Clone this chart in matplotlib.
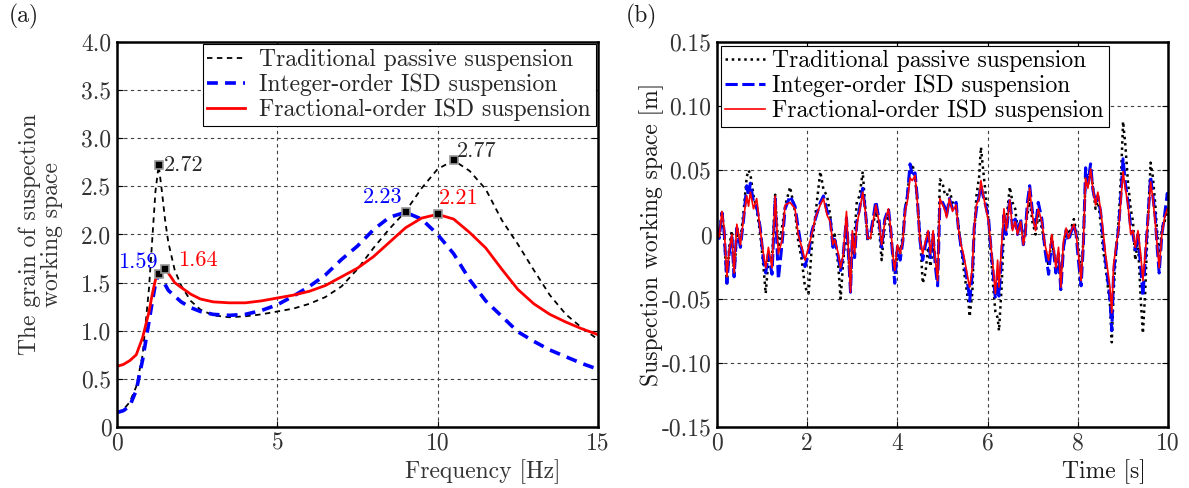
import matplotlib
matplotlib.use('Agg')
import matplotlib.pyplot as plt

plt.rcParams['font.family'] = ['cmr10', 'DejaVu Serif']
plt.rcParams['mathtext.fontset'] = 'cm'
plt.rcParams['axes.unicode_minus'] = False

# (a) frequency response
freq = [0, 0.2, 0.4, 0.6, 0.8, 1.0, 1.1, 1.2, 1.3, 1.4, 1.5, 1.6, 1.8, 2.0, 2.3, 2.6,
        3.0, 3.5, 4.0, 4.5, 5.0, 5.5, 6.0, 6.5, 7.0, 7.5, 8.0, 8.5, 9.0, 9.5, 10.0,
        10.5, 11.0, 11.5, 12.0, 12.5, 13.0, 13.5, 14.0, 14.5, 15.0]
gain_passive = [0.15, 0.18, 0.26, 0.42, 0.75, 1.45, 1.95, 2.45, 2.72, 2.45, 2.15, 1.92,
                1.63, 1.47, 1.31, 1.22, 1.16, 1.14, 1.15, 1.17, 1.20, 1.23, 1.28, 1.35,
                1.46, 1.64, 1.86, 2.06, 2.24, 2.48, 2.68, 2.77, 2.66, 2.47, 2.15, 1.90,
                1.63, 1.37, 1.17, 1.03, 0.91]
gain_integer = [0.15, 0.17, 0.22, 0.38, 0.70, 1.10, 1.30, 1.49, 1.59, 1.55, 1.48, 1.42,
                1.36, 1.30, 1.24, 1.20, 1.17, 1.16, 1.17, 1.21, 1.27, 1.36, 1.46, 1.58,
                1.74, 1.88, 2.05, 2.18, 2.23, 2.16, 2.00, 1.80, 1.53, 1.31, 1.15, 0.99,
                0.89, 0.80, 0.73, 0.66, 0.60]
gain_fractional = [0.63, 0.65, 0.69, 0.75, 0.93, 1.20, 1.38, 1.53, 1.60, 1.63, 1.64, 1.60,
                   1.50, 1.45, 1.38, 1.33, 1.30, 1.29, 1.29, 1.31, 1.34, 1.37, 1.41, 1.47,
                   1.56, 1.65, 1.77, 1.92, 2.07, 2.17, 2.21, 2.16, 2.02, 1.86, 1.64, 1.43,
                   1.28, 1.17, 1.09, 1.02, 0.96]

# peak markers
peak_f = [1.3, 1.3, 1.5, 9.0, 10.0, 10.5]
peak_v = [2.72, 1.59, 1.64, 2.23, 2.21, 2.77]
peak_txt = ['2.72', '1.59', '1.64', '2.23', '2.21', '2.77']

# (b) time response
t = [0.00, 0.05, 0.11, 0.16, 0.22, 0.27, 0.33, 0.38, 0.44, 0.52, 0.59, 0.66, 0.70, 0.74,
     0.81, 0.88, 0.96, 1.03, 1.08, 1.14, 1.22, 1.29, 1.36, 1.44, 1.51, 1.62, 1.73, 1.80,
     1.88, 1.95, 2.03, 2.10, 2.18, 2.29, 2.36, 2.44, 2.51, 2.57, 2.61, 2.69, 2.74, 2.80,
     2.87, 2.91, 2.96, 3.00, 3.05, 3.10, 3.16, 3.23, 3.29, 3.34, 3.40, 3.46, 3.52, 3.59,
     3.65, 3.72, 3.80, 3.85, 3.91, 3.94, 4.00, 4.06, 4.12, 4.17, 4.22, 4.28, 4.33, 4.39,
     4.44, 4.50, 4.56, 4.62, 4.68, 4.73, 4.79, 4.84, 4.89, 4.94, 5.00, 5.04, 5.09, 5.15,
     5.22, 5.30, 5.35, 5.41, 5.46, 5.52, 5.58, 5.60, 5.66, 5.70, 5.75, 5.81, 5.85, 5.90,
     5.96, 6.02, 6.07, 6.12, 6.17, 6.22, 6.25, 6.31, 6.36, 6.41, 6.49, 6.55, 6.61, 6.66,
     6.73, 6.79, 6.83, 6.88, 6.93, 6.99, 7.06, 7.12, 7.20, 7.27, 7.35, 7.42, 7.46, 7.51,
     7.57, 7.62, 7.68, 7.74, 7.79, 7.85, 7.91, 7.96, 8.01, 8.07, 8.12, 8.17, 8.22, 8.28,
     8.33, 8.39, 8.44, 8.50, 8.55, 8.61, 8.66, 8.71, 8.75, 8.79, 8.85, 8.90, 8.96, 9.00,
     9.05, 9.11, 9.17, 9.22, 9.27, 9.33, 9.39, 9.44, 9.49, 9.55, 9.61, 9.66, 9.71, 9.76,
     9.80, 9.86, 9.92, 9.98, 10.00]
sws_fractional = [0.003, -0.002, 0.018, 0.005, -0.033, -0.012, 0.000, -0.030, 0.008, -0.008,
                  0.013, 0.030, 0.022, 0.033, 0.020, 0.028, 0.003, -0.015, -0.026, -0.010,
                  -0.026, 0.030, -0.015, -0.005, 0.023, 0.025, 0.020, 0.000, -0.010, -0.020,
                  -0.010, 0.000, 0.013, 0.023, 0.028, 0.015, 0.010, -0.008, -0.004, -0.015,
                  -0.026, -0.015, 0.018, -0.010, -0.045, 0.003, -0.015, 0.008, 0.018, 0.033,
                  0.018, -0.003, -0.003, 0.010, 0.023, 0.010, -0.008, 0.010, 0.020, 0.005,
                  -0.020, -0.028, -0.008, -0.015, -0.005, 0.018, 0.026, 0.044, 0.042, 0.046,
                  0.026, -0.005, -0.015, -0.005, 0.003, -0.015, 0.003, -0.020, -0.036, 0.028,
                  0.023, 0.020, 0.013, 0.028, 0.018, 0.023, 0.005, -0.008, -0.015, -0.026,
                  -0.038, -0.041, -0.026, 0.005, 0.023, 0.028, 0.042, 0.031, 0.020, 0.010,
                  -0.008, -0.026, -0.046, -0.020, -0.041, -0.008, 0.020, 0.003, 0.027, 0.003,
                  0.010, 0.000, 0.010, -0.008, 0.000, 0.020, 0.036, 0.015, 0.003, 0.020,
                  0.010, -0.008, -0.020, 0.000, -0.010, -0.026, -0.010, -0.041, -0.005, 0.005,
                  -0.003, 0.003, 0.008, 0.000, -0.015, -0.036, -0.005, 0.044, 0.036, 0.051,
                  0.036, 0.023, 0.033, 0.020, 0.005, -0.015, -0.028, -0.041, -0.061, -0.023,
                  -0.008, 0.003, 0.031, 0.049, 0.036, 0.023, 0.000, 0.003, -0.010, 0.003,
                  -0.015, -0.036, -0.015, 0.010, 0.041, 0.028, 0.010, -0.010, -0.026, 0.000,
                  0.013, 0.020, 0.020]
sws_integer = [0.005, -0.003, 0.017, 0.002, -0.038, -0.015, -0.002, -0.033, 0.005, -0.010,
               0.012, 0.038, 0.030, 0.040, 0.025, 0.022, 0.005, -0.020, -0.030, -0.015,
               -0.031, 0.028, -0.035, -0.008, 0.020, 0.030, 0.022, 0.005, -0.012, -0.025,
               -0.015, 0.002, 0.012, 0.025, 0.030, 0.018, 0.012, -0.010, -0.004, -0.018,
               -0.028, -0.015, 0.013, -0.012, -0.045, 0.000, -0.018, 0.010, 0.020, 0.036,
               0.018, -0.003, 0.000, 0.012, 0.026, 0.012, -0.010, 0.012, 0.020, 0.005,
               -0.025, -0.038, -0.010, -0.020, -0.005, 0.020, 0.030, 0.055, 0.045, 0.048,
               0.028, -0.005, -0.020, -0.008, 0.002, -0.018, 0.000, -0.025, -0.040, 0.025,
               0.025, 0.022, 0.015, 0.028, 0.020, 0.025, 0.005, -0.010, -0.018, -0.030,
               -0.045, -0.052, -0.030, 0.005, 0.020, 0.030, 0.038, 0.030, 0.022, 0.012,
               -0.010, -0.030, -0.050, -0.030, -0.048, -0.015, 0.015, 0.000, 0.028, 0.005,
               0.012, 0.000, 0.012, -0.008, 0.000, 0.025, 0.038, 0.018, 0.005, 0.025,
               0.012, -0.012, -0.031, -0.005, -0.012, -0.030, -0.015, -0.043, -0.010, 0.003,
               -0.005, 0.002, 0.008, 0.000, -0.020, -0.040, -0.008, 0.052, 0.040, 0.055,
               0.035, 0.025, 0.030, 0.018, 0.000, -0.020, -0.035, -0.050, -0.075, -0.030,
               -0.010, 0.005, 0.035, 0.059, 0.040, 0.025, 0.005, 0.000, -0.012, 0.000,
               -0.025, -0.048, -0.020, 0.012, 0.045, 0.030, 0.015, -0.012, -0.030, 0.000,
               0.015, 0.032, 0.025]
sws_passive = [0.005, 0.000, 0.018, 0.000, -0.040, -0.010, 0.003, -0.032, 0.000, -0.005,
               0.018, 0.045, 0.050, 0.047, 0.030, 0.020, 0.000, -0.025, -0.046, -0.020,
               -0.020, 0.031, -0.010, 0.005, 0.022, 0.037, 0.018, -0.005, -0.020, -0.041,
               -0.046, -0.010, 0.015, 0.049, 0.035, 0.030, 0.015, -0.005, 0.000, -0.025,
               -0.050, -0.020, 0.005, -0.015, -0.040, -0.010, 0.000, 0.026, 0.030, 0.049,
               0.020, -0.005, -0.003, 0.008, 0.018, 0.005, -0.020, 0.008, 0.015, 0.000,
               -0.020, -0.030, -0.008, -0.015, 0.000, 0.020, 0.030, 0.052, 0.055, 0.045,
               0.025, 0.000, -0.038, -0.030, -0.010, -0.025, -0.010, -0.020, -0.030, 0.043,
               0.040, 0.033, 0.030, 0.035, 0.025, 0.020, 0.008, -0.010, -0.025, -0.040,
               -0.055, -0.064, -0.045, 0.000, 0.030, 0.045, 0.068, 0.050, 0.030, 0.010,
               -0.015, -0.040, -0.060, -0.065, -0.075, -0.040, 0.005, 0.010, 0.037, 0.025,
               0.020, 0.005, 0.010, -0.005, 0.005, 0.015, 0.028, 0.010, 0.000, 0.015,
               0.005, -0.010, -0.025, 0.000, -0.015, -0.020, -0.025, -0.035, -0.010, 0.005,
               0.000, 0.005, 0.012, 0.003, -0.010, -0.030, -0.005, 0.045, 0.038, 0.052,
               0.038, 0.020, 0.028, 0.010, -0.010, -0.025, -0.040, -0.055, -0.084, -0.045,
               -0.010, 0.010, 0.050, 0.088, 0.070, 0.040, 0.020, 0.010, -0.020, -0.005,
               -0.050, -0.077, -0.045, 0.010, 0.056, 0.045, 0.025, 0.000, -0.020, 0.005,
               0.010, 0.020, 0.015]

fs = 17
fig = plt.figure(figsize=(11.89, 4.88), dpi=100)
ax1 = fig.add_axes([0.0984, 0.125, 0.4045, 0.789])
ax2 = fig.add_axes([0.603, 0.125, 0.3795, 0.789])

# ---- panel (a)
ax1.plot(freq, gain_passive, color='k', ls=(0, (3, 2.5)), lw=1.3,
         label='Traditional passive suspension')
ax1.plot(freq, gain_integer, color='b', ls=(0, (3, 2)), lw=2.6,
         label='Integer-order ISD suspension')
ax1.plot(freq, gain_fractional, color='r', ls='-', lw=2.0,
         label='Fractional-order ISD suspension')
ax1.plot(peak_f, peak_v, ls='none', marker='s', ms=5.5, mfc='k', mec='0.6', mew=1.2)

ax1.text(peak_f[0] + 0.15, peak_v[0], peak_txt[0], color='0.15', fontsize=fs - 1, ha='left', va='center')
ax1.text(peak_f[1] - 0.02, peak_v[1] + 0.12, peak_txt[1], color='b', fontsize=fs - 1, ha='right', va='center')
ax1.text(peak_f[2] + 0.4, peak_v[2] + 0.09, peak_txt[2], color='r', fontsize=fs - 1, ha='left', va='center')
ax1.text(peak_f[3] - 0.1, peak_v[3] + 0.16, peak_txt[3], color='b', fontsize=fs - 1, ha='right', va='center')
ax1.text(peak_f[4] + 0.05, peak_v[4] + 0.17, peak_txt[4], color='r', fontsize=fs - 1, ha='left', va='center')
ax1.text(peak_f[5] + 0.1, peak_v[5] + 0.09, peak_txt[5], color='0.15', fontsize=fs - 1, ha='left', va='center')

ax1.set_xlim(0, 15)
ax1.set_ylim(0, 4)
ax1.set_xticks([0, 5, 10, 15])
ax1.set_xticklabels(['0', '5', '10', '15'])
ax1.set_yticks([0, 0.5, 1, 1.5, 2, 2.5, 3, 3.5, 4])
ax1.set_yticklabels(['0', '0.5', '1.0', '1.5', '2.0', '2.5', '3.0', '3.5', '4.0'])
ax1.set_xlabel('Frequency [Hz]', fontsize=fs, color='0.2')
ax1.xaxis.set_label_coords(0.76, -0.085)
ax1.set_ylabel('The grain of suspection\nworking space', fontsize=fs, color='0.2', linespacing=1.0)
ax1.yaxis.set_label_coords(-0.112, 0.5)
leg1 = ax1.legend(loc='upper right', fontsize=fs, fancybox=False, framealpha=1,
                  edgecolor='k', borderaxespad=0.1, handlelength=1.6,
                  borderpad=0.2, labelspacing=0.1, handletextpad=0.6)
leg1.get_frame().set_linewidth(0.8)
for txt in leg1.get_texts():
    txt.set_color('0.15')

# ---- panel (b)
ax2.plot(t, sws_passive, color='k', ls=(0, (1, 1.5)), lw=1.8,
         label='Traditional passive suspension')
ax2.plot(t, sws_integer, color='b', ls=(0, (4, 1.5)), lw=2.2,
         label='Integer-order ISD suspension')
ax2.plot(t, sws_fractional, color='r', ls='-', lw=1.2,
         label='Fractional-order ISD suspension')
ax2.set_xlim(0, 10)
ax2.set_ylim(-0.15, 0.15)
ax2.set_xticks([0, 2, 4, 6, 8, 10])
ax2.set_xticklabels(['0', '2', '4', '6', '8', '10'])
ax2.set_yticks([-0.15, -0.1, -0.05, 0, 0.05, 0.1, 0.15])
ax2.set_yticklabels(['-0.15', '-0.10', '-0.05', '0', '0.05', '0.10', '0.15'])
ax2.set_xlabel('Time [s]', fontsize=fs, color='0.1')
ax2.xaxis.set_label_coords(0.858, -0.085)
ax2.set_ylabel('Suspection working space [m]', fontsize=fs, color='0.1')
ax2.yaxis.set_label_coords(-0.117, 0.5)
leg2 = ax2.legend(loc='upper left', fontsize=fs, fancybox=False, framealpha=1,
                  edgecolor='k', borderaxespad=0.15, handlelength=1.7,
                  borderpad=0.2, labelspacing=0.1, handletextpad=0.3)
leg2.get_frame().set_linewidth(0.8)

for ax in (ax1, ax2):
    ax.grid(True, ls=(0, (3, 3)), lw=0.8, color='0.25')
    ax.set_axisbelow(True)
    for sp in ax.spines.values():
        sp.set_linewidth(1.8)
    ax.tick_params(direction='in', length=4, width=0.8, labelsize=fs,
                   labelcolor='0.2', top=True, right=True, pad=4)

fig.text(0.007, 0.955, '(a)', fontsize=fs, color='0.1')
fig.text(0.526, 0.955, '(b)', fontsize=fs, color='0.1')

fig.savefig('out.png', dpi=100)
